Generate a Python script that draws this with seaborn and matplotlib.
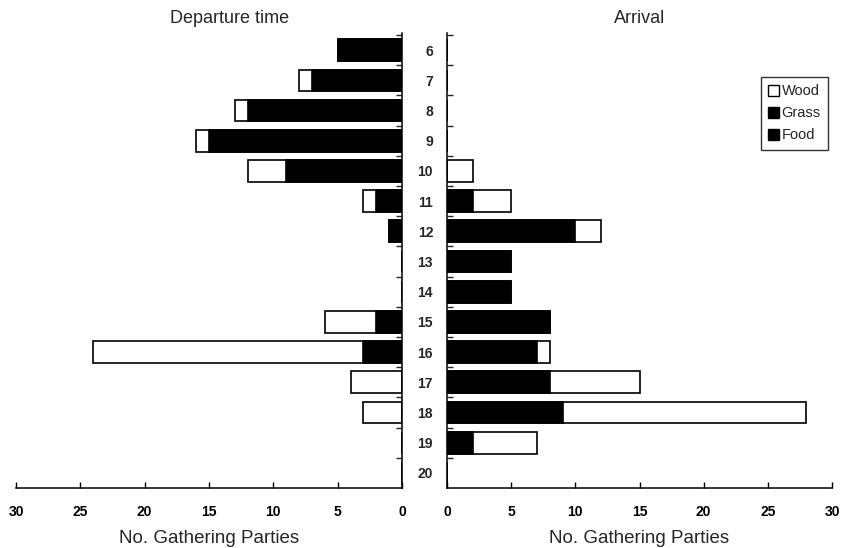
import numpy as np
import pandas as pd
import matplotlib.pyplot as plt
import seaborn as sns
from matplotlib.patches import Patch

# hour of day
hours = list(range(6, 21))

# departure time (left panel) - number of gathering parties
dep_food = [5, 7, 12, 15, 9, 2, 1, 0, 0, 2, 3, 0, 0, 0, 0]
dep_grass = [0, 0, 0, 0, 0, 0, 0, 0, 0, 0, 0, 0, 0, 0, 0]
dep_wood = [0, 1, 1, 1, 3, 1, 0, 0, 0, 4, 21, 4, 3, 0, 0]

# arrival (right panel)
arr_food = [0, 0, 0, 0, 0, 2, 10, 5, 5, 8, 7, 8, 9, 2, 0]
arr_grass = [0, 0, 0, 0, 0, 0, 0, 0, 0, 0, 0, 0, 0, 0, 0]
arr_wood = [0, 0, 0, 0, 2, 3, 2, 0, 0, 0, 1, 7, 19, 5, 0]

x_ticks = [0, 5, 10, 15, 20, 25, 30]

sns.set_style('ticks')
plt.rcParams['font.family'] = ['Liberation Sans', 'DejaVu Sans']

fig = plt.figure(figsize=(8.42, 5.48), dpi=100)
ax_l = fig.add_axes([16 / 842, 60 / 548, 386 / 842, 455 / 548])
ax_r = fig.add_axes([447 / 842, 60 / 548, 385 / 842, 455 / 548])


def draw_panel(ax, food, grass, wood):
    df = pd.DataFrame({'hour': hours, 'food': food, 'grass': grass, 'wood': wood})
    df['black'] = df['food'] + df['grass']
    df['total'] = df['black'] + df['wood']
    # white (wood) drawn as full length, black segment on top of it
    sns.barplot(data=df, x='total', y='hour', orient='h', native_scale=True,
                width=0.72, color='white', edgecolor='black', linewidth=1.2,
                saturation=1, errorbar=None, ax=ax)
    sns.barplot(data=df, x='black', y='hour', orient='h', native_scale=True,
                width=0.72, color='black', edgecolor='black', linewidth=1.2,
                saturation=1, errorbar=None, ax=ax)
    ax.set_ylim(20.5, 5.43)
    ax.set_xticks(x_ticks)
    ax.set_xticklabels([str(t) for t in x_ticks], fontweight='bold', fontsize=10)
    ax.tick_params(axis='x', direction='in', length=4, width=1, pad=12, colors='black')
    ax.set_yticks(np.arange(5.5, 20.5, 1), minor=True)
    ax.tick_params(axis='y', which='minor', direction='in', length=4, width=1)
    ax.set_xlabel('No. Gathering Parties', fontsize=13.5, labelpad=8)
    ax.set_ylabel('')
    for s in ax.spines.values():
        s.set_linewidth(1.1)
        s.set_color('black')


draw_panel(ax_l, dep_food, dep_grass, dep_wood)
draw_panel(ax_r, arr_food, arr_grass, arr_wood)

# left panel: reversed x axis, spine on the right
ax_l.set_xlim(30, 0)
ax_l.spines['left'].set_visible(False)
ax_l.spines['top'].set_visible(False)
ax_l.spines['right'].set_visible(True)
ax_l.yaxis.tick_right()
ax_l.set_yticks([])
ax_l.set_yticks(np.arange(5.5, 20.5, 1), minor=True)
ax_l.tick_params(axis='y', which='minor', direction='in', length=4, width=1,
                 left=False, right=True)
ax_l.set_title('Departure time', fontsize=13, x=0.552, pad=7)

# right panel: hour labels between the two panels
ax_r.set_xlim(0, 30)
ax_r.spines['right'].set_visible(False)
ax_r.spines['top'].set_visible(False)
ax_r.set_yticks(hours)
ax_r.set_yticklabels([str(h) for h in hours], fontweight='bold', fontsize=10)
ax_r.tick_params(axis='y', which='major', length=0, pad=10)
ax_r.set_title('Arrival', fontsize=13, pad=7)

handles = [Patch(facecolor='white', edgecolor='black', label='Wood'),
           Patch(facecolor='black', edgecolor='black', label='Grass'),
           Patch(facecolor='black', edgecolor='black', label='Food')]
leg = ax_r.legend(handles=handles, loc='upper right', bbox_to_anchor=(0.99, 0.903),
                  fontsize=10.5, frameon=True, fancybox=False, edgecolor='black',
                  handlelength=0.75, handleheight=0.75, handletextpad=0.2,
                  borderpad=0.5, labelspacing=0.55, borderaxespad=0)
leg.get_frame().set_linewidth(1)

fig.savefig('out.png', dpi=100)
